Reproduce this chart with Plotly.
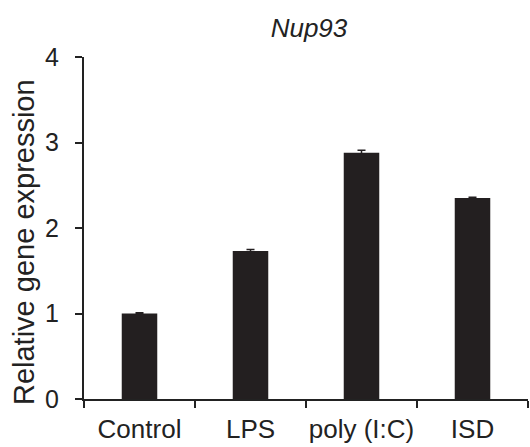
import plotly.graph_objects as go

categories = ["Control", "LPS", "poly (I:C)", "ISD"]
values = [1.0, 1.73, 2.88, 2.35]
errors = [0.01, 0.02, 0.03, 0.01]
y_ticks = [0, 1, 2, 3, 4]

fig = go.Figure(go.Bar(
    x=categories, y=values,
    marker=dict(color="#231f20", line=dict(width=0)),
    width=0.32,
    error_y=dict(type="data", array=errors, visible=True, color="#231f20", thickness=1.5, width=4),
))

font = "Liberation Sans, Arial, sans-serif"
fig.update_layout(
    width=530, height=447,
    margin=dict(l=84, r=2, t=57, b=48, autoexpand=False),
    plot_bgcolor="white", paper_bgcolor="white",
    showlegend=False,
    font=dict(family=font, size=25, color="#222"),
    title=dict(text="<i>Nup93</i>", x=0.583, xanchor="center", y=1 - 28 / 447, yanchor="middle",
               font=dict(family=font, size=26, color="#222")),
)
fig.add_annotation(
    text="Relative gene expression", textangle=-90,
    xref="paper", yref="paper", x=0, y=0.459, xanchor="center", yanchor="middle",
    xshift=-60, showarrow=False, font=dict(family=font, size=29, color="#222"),
)
fig.update_xaxes(
    showline=True, linecolor="#222", linewidth=2,
    ticks="outside", tickson="boundaries", ticklen=7, tickwidth=2, tickcolor="#222",
    tickfont=dict(size=26), tickangle=0, ticklabelstandoff=6,
    range=[-0.5, 3.5], showgrid=False, automargin=False,
)
fig.update_yaxes(
    range=[0, 4], tickvals=y_ticks, showline=True, linecolor="#222", linewidth=2,
    ticks="outside", ticklen=7, tickwidth=2, tickcolor="#222", showgrid=False, zeroline=False,
    tickfont=dict(size=25), ticklabelstandoff=11, automargin=False,
)
fig.write_html("out.html", config={"displayModeBar": False},
               post_script="document.body.style.margin='0';")
